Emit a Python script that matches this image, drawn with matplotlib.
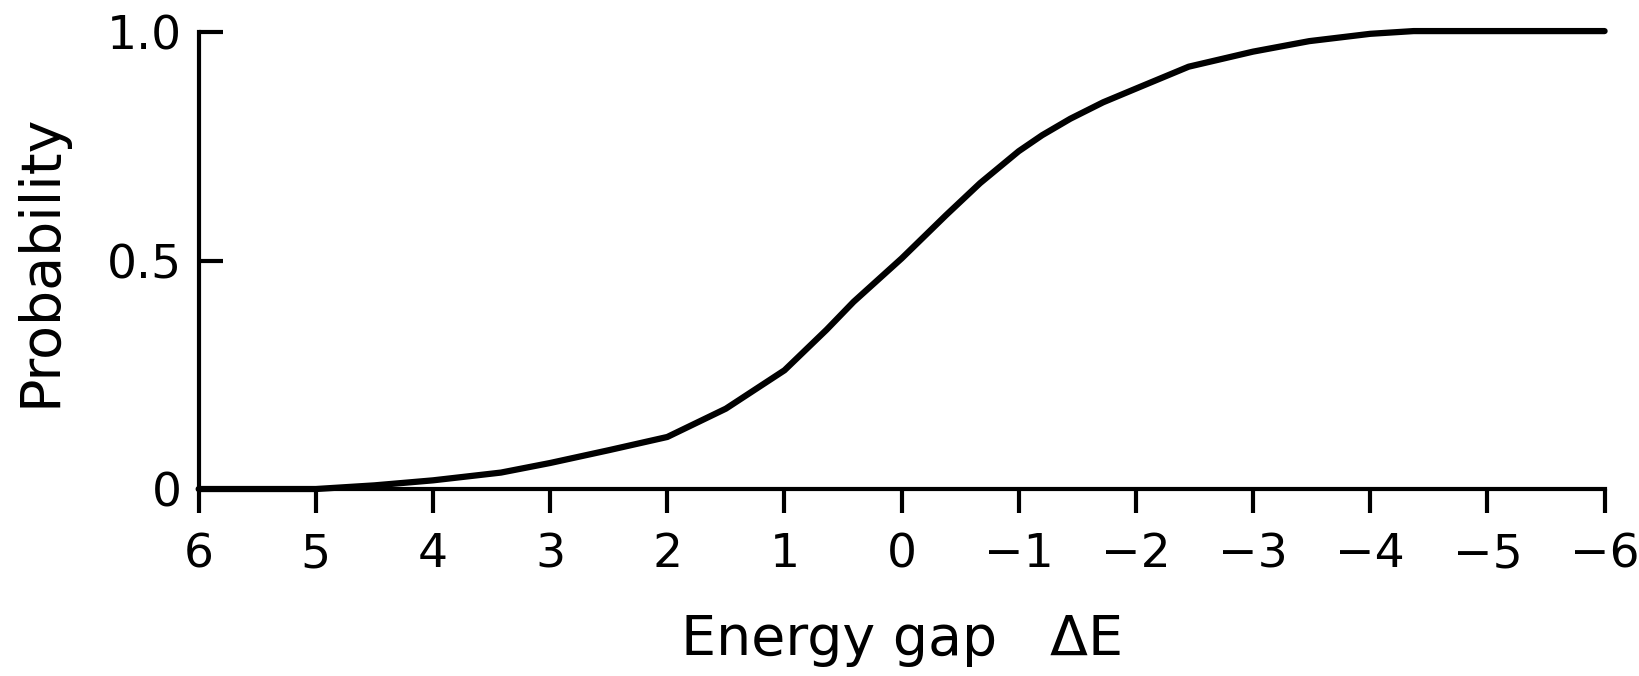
# Probability vs energy gap, redrawn from a scanned figure
import matplotlib.pyplot as plt

# values
energy_gap = [6, 5, 4.5, 4, 3.42, 3, 2.5, 2, 1.5, 1, 0.64, 0.41, 0,
              -0.38, -0.67, -1, -1.2, -1.44, -1.72, -2, -2.45, -3,
              -3.48, -4, -4.37, -5, -6]
probability = [0, 0, 0.008, 0.019, 0.036, 0.057, 0.085, 0.114, 0.176,
               0.26, 0.349, 0.41, 0.505, 0.60, 0.67, 0.74, 0.775,
               0.811, 0.847, 0.877, 0.925, 0.958, 0.981, 0.997, 1.003,
               1.003, 1.003]
x_ticks = [6, 5, 4, 3, 2, 1, 0, -1, -2, -3, -4, -5, -6]
y_ticks = [0, 0.5, 1.0]
y_tick_labels = ['0', '0.5', '1.0']

fig = plt.figure(figsize=(16.39, 6.76), dpi=100)
ax = fig.add_axes([0.1212, 0.2766, 0.8578, 0.6754])

ax.plot(energy_gap, probability, color='black', linewidth=4.5,
        solid_capstyle='round', solid_joinstyle='round', clip_on=False)

ax.set_xlim(6, -6)
ax.set_ylim(0, 1)
ax.set_xticks(x_ticks)
ax.set_xticklabels([str(t).replace('-', '\u2212') for t in x_ticks])
ax.set_yticks(y_ticks)
ax.set_yticklabels(y_tick_labels)

for side in ['top', 'right']:
    ax.spines[side].set_visible(False)
for side in ['left', 'bottom']:
    ax.spines[side].set_linewidth(3)

ax.tick_params(axis='x', direction='out', length=17, width=3,
               labelsize=34, pad=14)
ax.tick_params(axis='y', direction='in', length=17, width=3,
               labelsize=34, pad=12)
# the 0 tick on y sits under the x axis
ax.yaxis.get_major_ticks()[0].tick1line.set_visible(False)

ax.set_xlabel('Energy gap   \u0394E', fontsize=40, labelpad=26)
ax.set_ylabel('Probability', fontsize=40, labelpad=28)

fig.savefig('out.png', dpi=100)
